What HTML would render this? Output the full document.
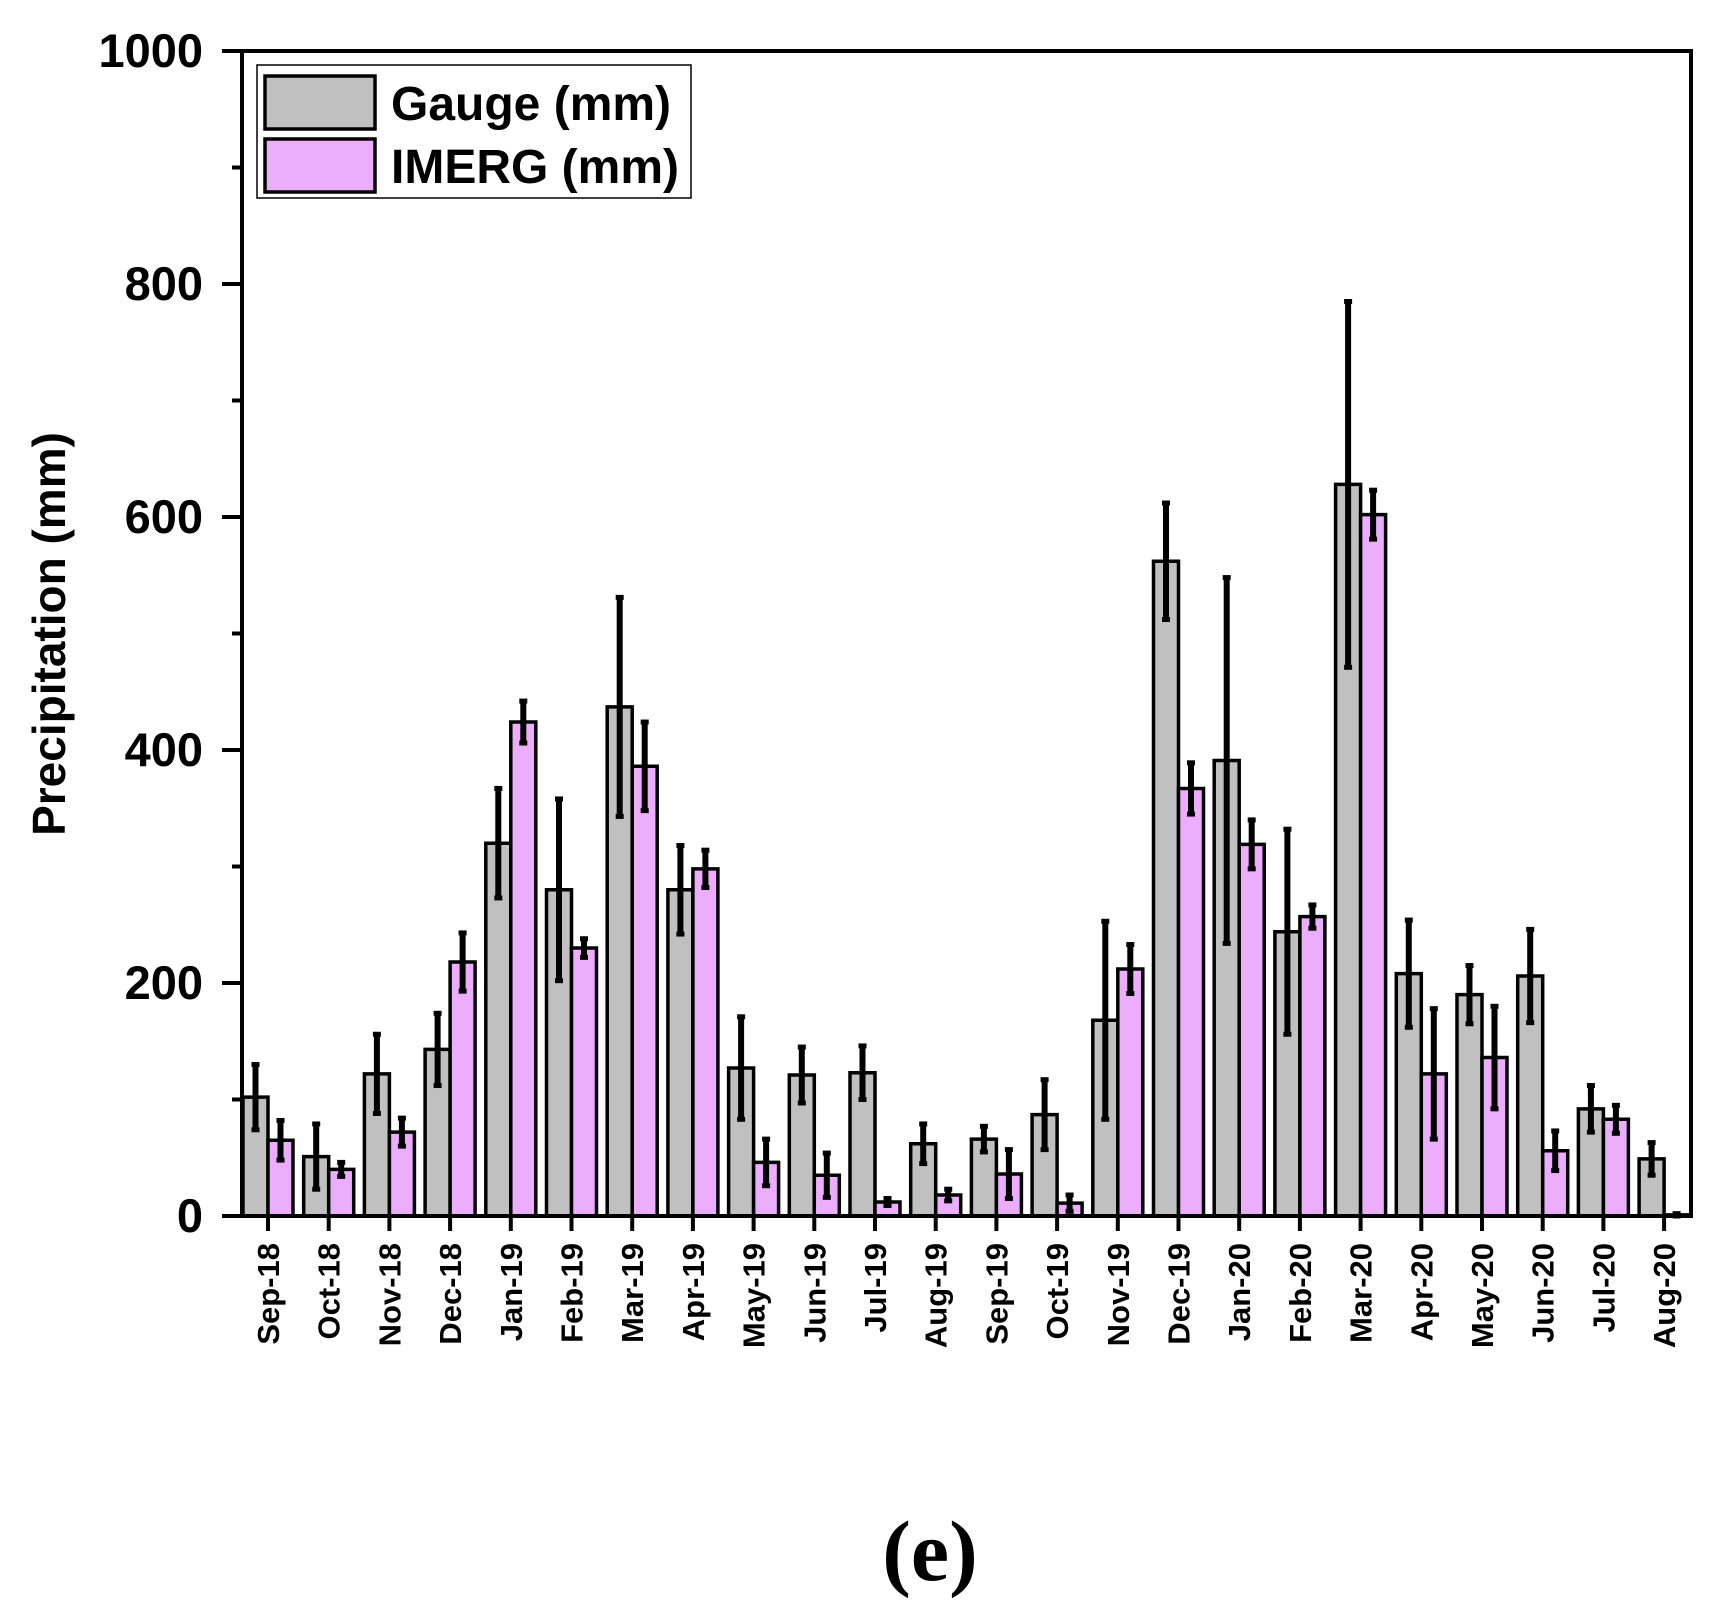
<!DOCTYPE html>
<html><head><meta charset="utf-8"><style>
html,body{margin:0;padding:0;background:#fff;}
svg{display:block;}
text{font-family:"Liberation Sans",Arial,sans-serif;font-weight:bold;fill:#000;}
.g{fill:#c0c0c0;stroke:#000;stroke-width:3.5;vector-effect:non-scaling-stroke;}
.p{fill:#ecadfc;stroke:#000;stroke-width:3.5;vector-effect:non-scaling-stroke;}
.e{stroke:#000;stroke-width:6;vector-effect:non-scaling-stroke;}
.c{stroke:#000;stroke-width:5;vector-effect:non-scaling-stroke;}
</style></head><body>
<svg width="1728" height="1619" viewBox="0 0 1728 1619" xmlns="http://www.w3.org/2000/svg" style="position:absolute;left:0;top:0">
<rect width="1728" height="1619" fill="#fff"/>
<g transform="translate(0,1216) scale(1,-1.165)">
<g id="bars"></g>
</g>
<path d="M242 51 H1691 V1216 H242 Z" fill="none" stroke="#000" stroke-width="4"/>
<g stroke="#000" stroke-width="4">
<line x1="222" y1="1216" x2="242" y2="1216"/><line x1="222" y1="983" x2="242" y2="983"/><line x1="222" y1="750" x2="242" y2="750"/><line x1="222" y1="517" x2="242" y2="517"/><line x1="222" y1="284" x2="242" y2="284"/><line x1="222" y1="51" x2="242" y2="51"/>
<line x1="232" y1="1099.5" x2="242" y2="1099.5"/><line x1="232" y1="866.5" x2="242" y2="866.5"/><line x1="232" y1="633.5" x2="242" y2="633.5"/><line x1="232" y1="400.5" x2="242" y2="400.5"/><line x1="232" y1="167.5" x2="242" y2="167.5"/>
</g>
<g font-size="47" text-anchor="end">
<text x="203" y="1232">0</text><text x="203" y="999">200</text><text x="203" y="766">400</text><text x="203" y="533">600</text><text x="203" y="300">800</text><text x="203" y="67">1000</text>
</g>
<text transform="translate(65,634) rotate(-90)" font-size="46" text-anchor="middle">Precipitation (mm)</text>
<rect x="257" y="65" width="434" height="133" fill="#fff" stroke="#000" stroke-width="1.5"/>
<rect x="265" y="76" width="110" height="53" fill="#c0c0c0" stroke="#000" stroke-width="3.5"/>
<rect x="265" y="139" width="110" height="53" fill="#ecadfc" stroke="#000" stroke-width="3.5"/>
<text x="391" y="120" font-size="48">Gauge (mm)</text>
<text x="391" y="183" font-size="48">IMERG (mm)</text>
<text x="930" y="1580" font-size="86" text-anchor="middle" style="font-family:'Liberation Serif',serif;font-weight:bold">(e)</text>
<g id="xt" stroke="#000" stroke-width="4"></g>
<g font-size="31" text-anchor="end">
<text transform="translate(279,1243) rotate(-90)">Sep-18</text>
<text transform="translate(339.7,1243) rotate(-90)">Oct-18</text>
<text transform="translate(400.4,1243) rotate(-90)">Nov-18</text>
<text transform="translate(461.1,1243) rotate(-90)">Dec-18</text>
<text transform="translate(521.8,1243) rotate(-90)">Jan-19</text>
<text transform="translate(582.5,1243) rotate(-90)">Feb-19</text>
<text transform="translate(643.2,1243) rotate(-90)">Mar-19</text>
<text transform="translate(703.9,1243) rotate(-90)">Apr-19</text>
<text transform="translate(764.6,1243) rotate(-90)">May-19</text>
<text transform="translate(825.3,1243) rotate(-90)">Jun-19</text>
<text transform="translate(886,1243) rotate(-90)">Jul-19</text>
<text transform="translate(946.7,1243) rotate(-90)">Aug-19</text>
<text transform="translate(1007.4,1243) rotate(-90)">Sep-19</text>
<text transform="translate(1068.1,1243) rotate(-90)">Oct-19</text>
<text transform="translate(1128.8,1243) rotate(-90)">Nov-19</text>
<text transform="translate(1189.5,1243) rotate(-90)">Dec-19</text>
<text transform="translate(1250.2,1243) rotate(-90)">Jan-20</text>
<text transform="translate(1310.9,1243) rotate(-90)">Feb-20</text>
<text transform="translate(1371.6,1243) rotate(-90)">Mar-20</text>
<text transform="translate(1432.3,1243) rotate(-90)">Apr-20</text>
<text transform="translate(1493,1243) rotate(-90)">May-20</text>
<text transform="translate(1553.7,1243) rotate(-90)">Jun-20</text>
<text transform="translate(1614.4,1243) rotate(-90)">Jul-20</text>
<text transform="translate(1675.1,1243) rotate(-90)">Aug-20</text>
</g>
</svg>
<script>
var d=[[102,28,65,17],[51,28,40,6],[122,34,72,12],[143,31,218,25],[320,47,424,18],[280,78,230,8],[437,94,386,38],[280,38,298,16],[127,44,46,20],[121,24,35,19],[123,23,12,3],[62,17,18,5],[66,11,36,21],[87,30,11,7],[168,85,212,21],[562,50,367,22],[391,157,319,21],[244,88,257,10],[628,157,602,21],[208,46,122,56],[190,25,136,44],[206,40,56,17],[92,20,83,12],[49,14,1,1]];
var NS="http://www.w3.org/2000/svg";
function el(p,t,a){var e=document.createElementNS(NS,t);for(var k in a)e.setAttribute(k,a[k]);p.appendChild(e);return e;}
var B=document.getElementById("bars"),XT=document.getElementById("xt");
d.forEach(function(r,i){var c=268+60.7*i;
[[c-25,r[0],r[1],"g"],[c,r[2],r[3],"p"]].forEach(function(b){
el(B,"rect",{x:b[0],y:0,width:25,height:b[1],"class":b[3]});
var x=b[0]+12.5,lo=Math.max(0,b[1]-b[2]),hi=b[1]+b[2];
el(B,"line",{x1:x,x2:x,y1:lo,y2:hi,"class":"e"});
el(B,"line",{x1:x-4,x2:x+4,y1:hi,y2:hi,"class":"c"});
el(B,"line",{x1:x-4,x2:x+4,y1:lo,y2:lo,"class":"c"});});
el(XT,"line",{x1:c,x2:c,y1:1216,y2:1231});
});
</script>
</body></html>
